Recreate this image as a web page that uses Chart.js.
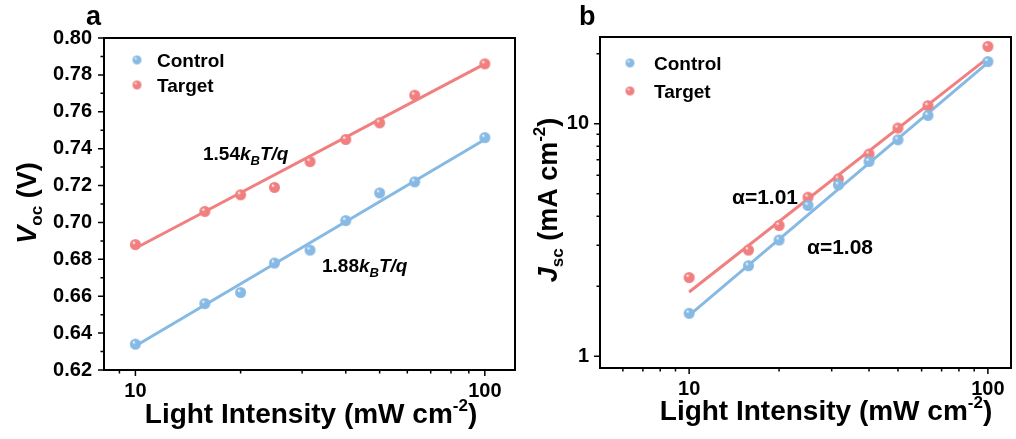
<!DOCTYPE html>
<html>
<head>
<meta charset="utf-8">
<script src="https://cdn.jsdelivr.net/npm/chart.js@4.4.0/dist/chart.umd.min.js"></script>
<style>
  body { margin: 0; background: #fff; width: 1016px; height: 439px; overflow: hidden; position: relative; }
  canvas { position: absolute; top: 0; }
  #chartA { left: 0; }
  #chartB { left: 520px; }
</style>
</head>
<body>
<canvas id="chartA" width="520" height="439"></canvas>
<canvas id="chartB" width="496" height="439"></canvas>
<script>
// light intensity steps (mW cm-2)
const intensity = [10, 15.8, 20, 25, 31.6, 40, 50, 63, 100];

// open-circuit voltage (V)
const vocControl = [0.634, 0.656, 0.662, 0.678, 0.685, 0.701, 0.716, 0.722, 0.746];
const vocTarget = [0.688, 0.706, 0.715, 0.719, 0.733, 0.745, 0.754, 0.769, 0.786];

// short-circuit current density (mA cm-2)
const jscControl = [1.53, 2.45, 3.16, 4.45, 5.46, 6.88, 8.53, 10.86, 18.5];
const jscTarget = [2.18, 2.86, 3.65, 4.83, 5.79, 7.40, 9.58, 11.96, 21.5];

// fitted lines, end points at 10 and 100 mW cm-2
const fitX = [10, 100];
const vocFitControl = [0.633, 0.745];
const vocFitTarget = [0.686, 0.786];
const jscFitControl = [1.50, 18.3];
const jscFitTarget = [1.89, 19.2];

const BLUE = '#86b9e3';
const RED = '#f17f7f';
const FONT = '"Liberation Sans", Arial, sans-serif';

// small shaded ball used as the marker
function sphere(color, r) {
  const c = document.createElement('canvas');
  const s = Math.ceil(2 * r + 2);
  c.width = c.height = s;
  const g = c.getContext('2d');
  const m = s / 2;
  const grad = g.createRadialGradient(m - r * 0.35, m - r * 0.4, r * 0.05, m, m, r);
  grad.addColorStop(0, '#ffffff');
  grad.addColorStop(0.3, color);
  grad.addColorStop(1, color);
  g.fillStyle = grad;
  g.beginPath();
  g.arc(m, m, r, 0, Math.PI * 2);
  g.fill();
  return c;
}

const ballBlue = sphere(BLUE, 5.5), ballRed = sphere(RED, 5.5);
const legBlue = sphere(BLUE, 4.5), legRed = sphere(RED, 4.5);

const pts = (xs, ys) => xs.map((x, i) => ({ x: x, y: ys[i] }));

// text made of runs with their own font and vertical shift
function richText(ctx, parts, x, y, rot, align) {
  ctx.save();
  ctx.translate(x, y);
  ctx.rotate(rot || 0);
  let w = 0;
  parts.forEach(p => { ctx.font = p.font; w += ctx.measureText(p.t).width; });
  let cx = align === 'left' ? 0 : -w / 2;
  ctx.fillStyle = '#000';
  ctx.textBaseline = 'alphabetic';
  ctx.textAlign = 'left';
  parts.forEach(p => {
    ctx.font = p.font;
    ctx.fillText(p.t, cx, p.dy || 0);
    cx += ctx.measureText(p.t).width;
  });
  ctx.restore();
}

const decor = {
  id: 'decor',
  afterDatasetsDraw(chart, args, o) {
    const ctx = chart.ctx;
    const a = chart.chartArea;
    const xs = chart.scales.x, ys = chart.scales.y;
    ctx.save();
    ctx.strokeStyle = '#000';
    // tick marks, outward
    ctx.lineWidth = 1.5;
    ctx.beginPath();
    o.xMajor.forEach(v => { const p = xs.getPixelForValue(v); ctx.moveTo(p, a.bottom); ctx.lineTo(p, a.bottom + 6); });
    o.xMinor.forEach(v => { const p = xs.getPixelForValue(v); ctx.moveTo(p, a.bottom); ctx.lineTo(p, a.bottom + 3.5); });
    o.yMajor.forEach(v => { const p = ys.getPixelForValue(v); ctx.moveTo(a.left, p); ctx.lineTo(a.left - 6, p); });
    o.yMinor.forEach(v => { const p = ys.getPixelForValue(v); ctx.moveTo(a.left, p); ctx.lineTo(a.left - 3.5, p); });
    ctx.stroke();
    // frame
    ctx.lineWidth = 2;
    ctx.strokeRect(a.left, a.top, a.right - a.left, a.bottom - a.top);

    // legend
    const sets = chart.data.datasets.filter(d => d.type === 'scatter');
    ctx.font = 'bold 19px ' + FONT;
    ctx.fillStyle = '#000';
    ctx.textBaseline = 'alphabetic';
    sets.forEach((d, i) => {
      const img = i === 0 ? legBlue : legRed;
      const yy = o.legend.y + i * o.legend.gap;
      ctx.drawImage(img, o.legend.x - img.width / 2, yy - img.height / 2);
      ctx.fillText(d.label, o.legend.tx, yy + 7);
    });

    // labels and axis titles
    o.texts.forEach(t => richText(ctx, t.parts, t.x, t.y, t.rot, t.align));
    ctx.restore();
  }
};

const big = 'bold 28px ' + FONT;
const small = 'bold 17px ' + FONT;
const ybig = 'bold 27px ' + FONT;
const ybigIt = 'italic bold 27px ' + FONT;
const note = 'bold 19px ' + FONT;
const noteIt = 'italic bold 19px ' + FONT;
const noteSub = 'italic bold 13px ' + FONT;
const tickFont = { family: FONT, size: 20, weight: 'bold' };

function range(from, to, step) {
  const out = [];
  for (let v = from; v <= to + 1e-9; v += step) out.push(+v.toFixed(4));
  return out;
}

function makeChart(id, cfg) {
  return new Chart(document.getElementById(id), {
    data: {
      datasets: [
        { type: 'scatter', label: 'Control', data: pts(intensity, cfg.control), pointStyle: ballBlue, order: 1 },
        { type: 'scatter', label: 'Target', data: pts(intensity, cfg.target), pointStyle: ballRed, order: 1 },
        { type: 'line', label: 'Control fit', data: pts(fitX, cfg.fitControl), borderColor: BLUE, borderWidth: 3, pointRadius: 0, order: 2 },
        { type: 'line', label: 'Target fit', data: pts(fitX, cfg.fitTarget), borderColor: RED, borderWidth: 3, pointRadius: 0, order: 2 }
      ]
    },
    options: {
      responsive: false,
      animation: false,
      layout: { padding: cfg.padding },
      plugins: { legend: { display: false }, tooltip: { enabled: false }, decor: cfg.decor },
      scales: {
        x: {
          type: 'logarithmic', min: cfg.xMin, max: cfg.xMax,
          afterBuildTicks: s => { s.ticks = [{ value: 10 }, { value: 100 }]; },
          afterFit: s => { s.height = cfg.xHeight; },
          grid: { display: false, drawTicks: false },
          border: { display: false },
          ticks: { callback: v => String(v), font: tickFont, color: '#000', padding: 9, maxRotation: 0, autoSkip: false }
        },
        y: cfg.y
      }
    },
    plugins: [decor]
  });
}

// panel a: Voc vs light intensity
makeChart('chartA', {
  control: vocControl, target: vocTarget,
  fitControl: vocFitControl, fitTarget: vocFitTarget,
  padding: { top: 38, right: 2, left: 0, bottom: 0 },
  xMin: 8.13, xMax: 122, xHeight: 69,
  y: {
    type: 'linear', min: 0.62, max: 0.80,
    afterFit: s => { s.width = 104; },
    grid: { display: false, drawTicks: false },
    border: { display: false },
    ticks: { stepSize: 0.02, callback: v => v.toFixed(2), font: tickFont, color: '#000', padding: 12 }
  },
  decor: {
    xMajor: [10, 100], xMinor: [9, 20, 30, 40, 50, 60, 70, 80, 90],
    yMajor: range(0.62, 0.80, 0.02), yMinor: range(0.63, 0.79, 0.02),
    legend: { x: 137, y: 60, gap: 25, tx: 157 },
    texts: [
      { x: 86, y: 25, align: 'left', parts: [{ t: 'a', font: 'bold 27px ' + FONT }] },
      { x: 311, y: 423, parts: [{ t: 'Light Intensity (mW cm', font: big }, { t: '-2', font: small, dy: -12 }, { t: ')', font: big }] },
      { x: 36, y: 203, rot: -Math.PI / 2, parts: [{ t: 'V', font: ybigIt }, { t: 'oc', font: small, dy: 6 }, { t: ' (V)', font: ybig }] },
      { x: 203, y: 160, align: 'left', parts: [{ t: '1.54', font: note }, { t: 'k', font: noteIt }, { t: 'B', font: noteSub, dy: 5 }, { t: 'T/q', font: noteIt }] },
      { x: 322, y: 272, align: 'left', parts: [{ t: '1.88', font: note }, { t: 'k', font: noteIt }, { t: 'B', font: noteSub, dy: 5 }, { t: 'T/q', font: noteIt }] }
    ]
  }
});

// panel b: Jsc vs light intensity, log-log
makeChart('chartB', {
  control: jscControl, target: jscTarget,
  fitControl: jscFitControl, fitTarget: jscFitTarget,
  padding: { top: 37, right: 1, left: 0, bottom: 0 },
  xMin: 5.03, xMax: 119.5, xHeight: 71,
  y: {
    type: 'logarithmic', min: 0.89, max: 23.6,
    afterBuildTicks: s => { s.ticks = [{ value: 1 }, { value: 10 }]; },
    afterFit: s => { s.width = 80; },
    grid: { display: false, drawTicks: false },
    border: { display: false },
    ticks: { callback: v => String(v), font: tickFont, color: '#000', padding: 11 }
  },
  decor: {
    xMajor: [10, 100], xMinor: [6, 7, 8, 9, 20, 30, 40, 50, 60, 70, 80, 90],
    yMajor: [1, 10], yMinor: [2, 3, 4, 5, 6, 7, 8, 9, 20],
    legend: { x: 110, y: 63, gap: 28, tx: 134 },
    texts: [
      { x: 59, y: 25, align: 'left', parts: [{ t: 'b', font: 'bold 27px ' + FONT }] },
      { x: 306, y: 420, parts: [{ t: 'Light Intensity (mW cm', font: big }, { t: '-2', font: small, dy: -12 }, { t: ')', font: big }] },
      { x: 37, y: 200, rot: -Math.PI / 2, parts: [{ t: 'J', font: ybigIt }, { t: 'sc', font: small, dy: 6 }, { t: ' (mA cm', font: ybig }, { t: '-2', font: small, dy: -12 }, { t: ')', font: ybig }] },
      { x: 212, y: 204, align: 'left', parts: [{ t: '\u03b1=1.01', font: 'bold 21px ' + FONT }] },
      { x: 287, y: 254, align: 'left', parts: [{ t: '\u03b1=1.08', font: 'bold 21px ' + FONT }] }
    ]
  }
});
</script>
</body>
</html>
